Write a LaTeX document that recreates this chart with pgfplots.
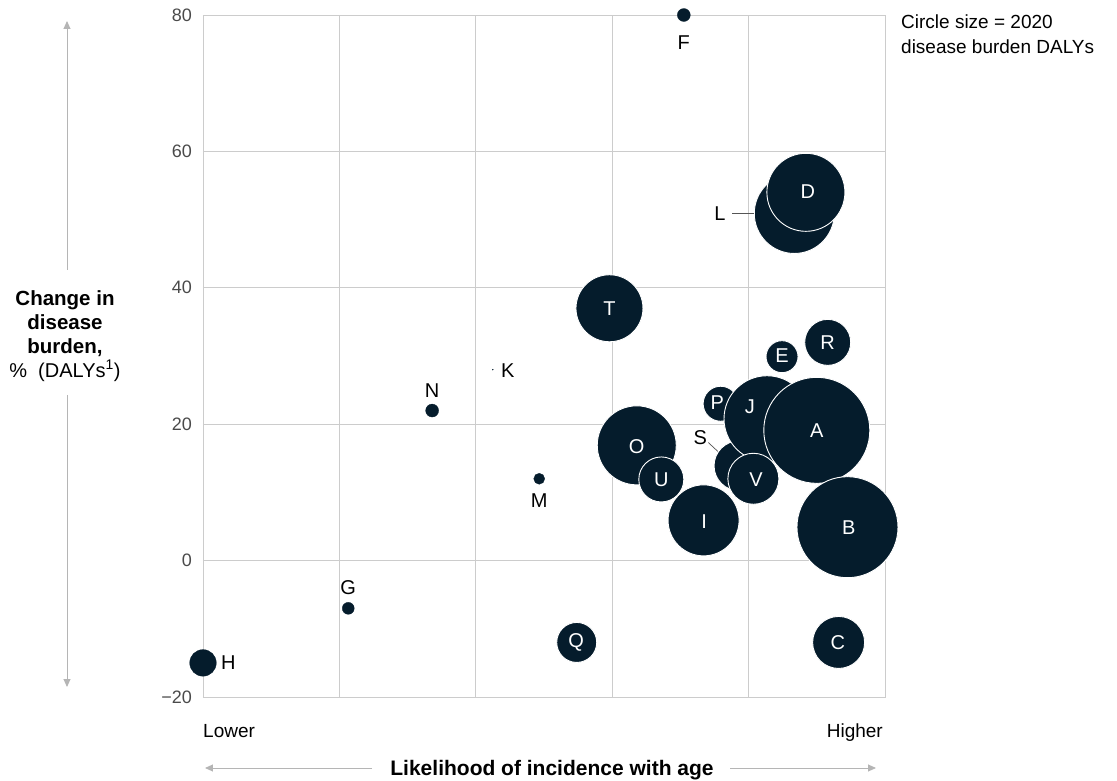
\documentclass[border=0pt]{standalone}
\usepackage{fontspec}
\setmainfont{Liberation Sans}
\usepackage{pgfplots}
\pgfplotsset{compat=1.18}
\usetikzlibrary{arrows.meta}
\definecolor{bub}{HTML}{051C2C}
\definecolor{gridc}{HTML}{CCCCCC}
\definecolor{arr}{HTML}{B5B5B5}
\definecolor{tickc}{HTML}{4A4A4A}
\definecolor{lead}{HTML}{555555}
\begin{document}
\fontsize{19}{24}\selectfont
\begin{tikzpicture}[x=1pt,y=1pt]
\path[use as bounding box] (-203,-83) rectangle (914,697);
\begin{axis}[
  at={(0,0)}, anchor=south west,
  scale only axis, width=682pt, height=682pt,
  xmin=0, xmax=100, ymin=-20, ymax=80,
  xtick={0,20,40,60,80,100}, xticklabels={},
  ytick={-20,0,20,40,60,80}, yticklabels={−20,0,20,40,60,80},
  grid=major, grid style={gridc, line width=0.9pt},
  axis line style={gridc, line width=0.9pt},
  major tick length=0pt,
  yticklabel style={font=\fontsize{18}{22}\selectfont, text=tickc, anchor=east, inner sep=0pt, xshift=-11pt},
  clip=false,
]
% small dots
\addplot[scatter, only marks, mark=*,
  scatter/use mapped color={draw=bub, fill=bub},
  mark options={line width=0.3pt},
  visualization depends on={\thisrow{r} \as \rad},
  scatter/@pre marker code/.append style={/tikz/mark size=\rad pt}]
  table[x=x, y=y]{
x y r
70.5 80 6.5
33.6 22 6.5
42.5 28 0.5
49.3 12 5.5
21.3 -7 6
0 -15 13.3
};
% bubbles
\addplot[scatter, only marks, mark=*,
  scatter/use mapped color={draw=white, fill=bub},
  mark options={line width=0.9pt},
  visualization depends on={\thisrow{r} \as \rad},
  scatter/@pre marker code/.append style={/tikz/mark size=\rad pt}]
  table[x=x, y=y]{
x y r
54.8 -12 20
93.2 -12 26
59.6 37 33.5
91.6 32 23
84.9 29.9 16
86.7 50.9 40
88.4 54 39
75.9 23 17.5
78.6 13.9 25
82.7 20.8 43
80.7 12.0 25.5
90.0 19.1 53
94.5 4.9 50.5
63.6 16.9 39.5
67.2 11.9 22.5
73.4 5.9 35.5
};
\coordinate (lD) at (axis cs:88.7,54.1);
\coordinate (lT) at (axis cs:59.6,37);
\coordinate (lR) at (axis cs:91.6,32);
\coordinate (lE) at (axis cs:84.9,30.0);
\coordinate (lP) at (axis cs:75.4,23.1);
\coordinate (lJ) at (axis cs:80.2,22.6);
\coordinate (lA) at (axis cs:90.0,19.0);
\coordinate (lV) at (axis cs:81.1,11.9);
\coordinate (lB) at (axis cs:94.7,4.8);
\coordinate (lO) at (axis cs:63.6,16.7);
\coordinate (lU) at (axis cs:67.2,11.8);
\coordinate (lI) at (axis cs:73.5,5.7);
\coordinate (lC) at (axis cs:93.1,-12);
\coordinate (lQ) at (axis cs:54.7,-12);
\coordinate (lF) at (axis cs:70.5,75.9);
\coordinate (lL) at (axis cs:75.8,50.9);
\coordinate (lS) at (axis cs:72.9,18.0);
\coordinate (lM) at (axis cs:49.3,8.8);
\coordinate (lN) at (axis cs:33.6,24.9);
\coordinate (lK) at (axis cs:44.7,27.9);
\coordinate (lG) at (axis cs:21.3,-4.0);
\coordinate (lH) at (axis cs:3.7,-15);
\coordinate (Ll1) at (axis cs:77.6,50.9);
\coordinate (Ll2) at (axis cs:80.8,50.9);
\coordinate (Sl1) at (axis cs:74.1,17.3);
\coordinate (Sl2) at (axis cs:75.5,16.0);
\end{axis}
% white labels inside bubbles
\begin{scope}[every node/.style={text=white, font=\fontsize{20}{24}\selectfont}]
\foreach \n in {D,T,R,E,P,J,A,V,B,O,U,I,C,Q} {\node at (l\n) {\n};}
\end{scope}
% black labels outside
\begin{scope}[every node/.style={text=black, font=\fontsize{20}{24}\selectfont}]
\foreach \n in {F,L,S,M,N,K,G,H} {\node at (l\n) {\n};}
\end{scope}
\draw[lead, line width=0.9pt] (Ll1) -- (Ll2);
\draw[lead, line width=0.7pt] (Sl1) -- (Sl2);
% y axis title and arrows
\node[align=center, font=\fontsize{20.5}{24}\selectfont] at (-138,361)
  {\textbf{Change in}\\\textbf{disease}\\\textbf{burden,}\\\fontsize{20}{24}\selectfont\%\ \ (DALYs\textsuperscript{1})};
\draw[arr, line width=0.9pt, -{Triangle[length=8pt,width=7pt]}] (-136,427) -- (-136,676);
\draw[arr, line width=0.9pt, -{Triangle[length=8pt,width=7pt]}] (-136,302) -- (-136,10);
% x axis
\node[anchor=base west, inner sep=0pt] at (0,-40) {Lower};
\node[anchor=base east, inner sep=0pt] at (680,-40) {Higher};
\node[anchor=base, font=\fontsize{21}{24}\selectfont\bfseries] at (349,-78) {Likelihood of incidence with age};
\draw[arr, line width=0.9pt, -{Triangle[length=8pt,width=7pt]}] (169,-71) -- (2,-71);
\draw[arr, line width=0.9pt, -{Triangle[length=8pt,width=7pt]}] (527,-71) -- (673,-71);
% legend note
\node[anchor=base west, inner sep=0pt] at (698,668) {Circle size = 2020};
\node[anchor=base west, inner sep=0pt] at (698,643) {disease burden DALYs};
\end{tikzpicture}
\end{document}
